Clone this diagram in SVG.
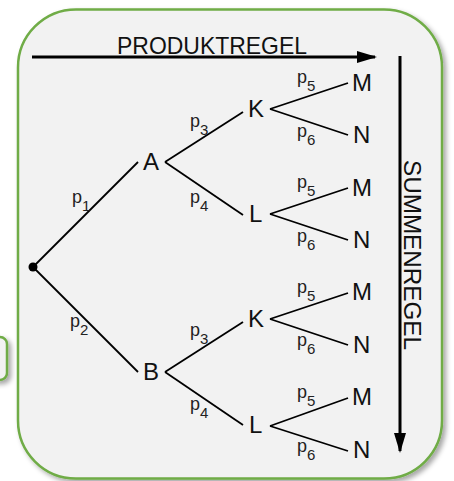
<svg xmlns="http://www.w3.org/2000/svg" width="454" height="481" viewBox="0 0 454 481">
<defs>
<filter id="sh" x="-10%" y="-10%" width="130%" height="130%">
<feDropShadow dx="3" dy="3" stdDeviation="2.5" flood-color="#000" flood-opacity="0.35"/>
</filter>
<marker id="ah" markerWidth="20" markerHeight="12" refX="18" refY="6" orient="auto" markerUnits="userSpaceOnUse">
<path d="M0,0 L20,6 L0,12 Z" fill="#000"/>
</marker>
<style>
.panel{fill:#f2f2f2;stroke:#6fac46;stroke-width:2.5}
.edge{stroke:#000;stroke-width:1.8;fill:none}
.big{stroke:#000;stroke-width:3;fill:none}
.n{font-family:"Liberation Sans",Arial,sans-serif;font-size:24px;fill:#111}
.p{font-family:"Liberation Sans",Arial,sans-serif;font-size:18px;fill:#222}
.s{font-size:15px}
.h{font-family:"Liberation Sans",Arial,sans-serif;font-size:24px;fill:#111}
</style>
</defs>
<rect id="sidebox" class="panel" x="-30" y="337" width="37" height="43" rx="7" filter="url(#sh)"/>
<rect id="panel" class="panel" x="18" y="9.5" width="424" height="469" rx="58" filter="url(#sh)"/>
<g id="rules">
<line class="big" x1="32" y1="57" x2="375" y2="57" marker-end="url(#ah)"/>
<text class="h" x="117" y="54" textLength="190" lengthAdjust="spacingAndGlyphs">PRODUKTREGEL</text>
<line class="big" x1="400" y1="56" x2="400" y2="451" marker-end="url(#ah)"/>
<text class="h" transform="translate(404,160) rotate(90)" x="0" y="0" textLength="190" lengthAdjust="spacingAndGlyphs">SUMMENREGEL</text>
</g>
<g id="connectors">
<line class="edge" x1="33" y1="267" x2="138" y2="162"/>
<line class="edge" x1="33" y1="267" x2="138" y2="372"/>
<line class="edge" x1="165" y1="162" x2="243" y2="112"/>
<line class="edge" x1="165" y1="162" x2="243" y2="215"/>
<line class="edge" x1="165" y1="372" x2="243" y2="322"/>
<line class="edge" x1="165" y1="372" x2="243" y2="425"/>
<line class="edge" x1="270" y1="109" x2="348" y2="83"/>
<line class="edge" x1="270" y1="109" x2="348" y2="135"/>
<line class="edge" x1="270" y1="214" x2="348" y2="188"/>
<line class="edge" x1="270" y1="214" x2="348" y2="240"/>
<line class="edge" x1="270" y1="319" x2="348" y2="293"/>
<line class="edge" x1="270" y1="319" x2="348" y2="345"/>
<line class="edge" x1="270" y1="426" x2="348" y2="398"/>
<line class="edge" x1="270" y1="426" x2="348" y2="451"/>
</g>
<g id="labels">
<text class="p" x="72" y="203">p<tspan class="s" dy="8">1</tspan></text>
<text class="p" x="70" y="327">p<tspan class="s" dy="8">2</tspan></text>
<text class="p" x="190" y="127">p<tspan class="s" dy="8">3</tspan></text>
<text class="p" x="190" y="203">p<tspan class="s" dy="8">4</tspan></text>
<text class="p" x="190" y="336">p<tspan class="s" dy="8">3</tspan></text>
<text class="p" x="190" y="410">p<tspan class="s" dy="8">4</tspan></text>
<text class="p" x="297" y="83">p<tspan class="s" dy="8">5</tspan></text>
<text class="p" x="297" y="137">p<tspan class="s" dy="8">6</tspan></text>
<text class="p" x="297" y="188">p<tspan class="s" dy="8">5</tspan></text>
<text class="p" x="297" y="242">p<tspan class="s" dy="8">6</tspan></text>
<text class="p" x="297" y="293">p<tspan class="s" dy="8">5</tspan></text>
<text class="p" x="297" y="346">p<tspan class="s" dy="8">6</tspan></text>
<text class="p" x="297" y="398">p<tspan class="s" dy="8">5</tspan></text>
<text class="p" x="297" y="452">p<tspan class="s" dy="8">6</tspan></text>
</g>
<g id="root"><circle cx="33" cy="267" r="4.5" fill="#000"/></g>
<g id="A"><text class="n" x="143" y="170">A</text></g>
<g id="B"><text class="n" x="143" y="380">B</text></g>
<g id="K1"><text class="n" x="248" y="117">K</text></g>
<g id="L1"><text class="n" x="249" y="222">L</text></g>
<g id="K2"><text class="n" x="248" y="327">K</text></g>
<g id="L2"><text class="n" x="249" y="433">L</text></g>
<g id="M1"><text class="n" x="352" y="91">M</text></g>
<g id="N1"><text class="n" x="353" y="143">N</text></g>
<g id="M2"><text class="n" x="352" y="196">M</text></g>
<g id="N2"><text class="n" x="353" y="248">N</text></g>
<g id="M3"><text class="n" x="352" y="300">M</text></g>
<g id="N3"><text class="n" x="353" y="353">N</text></g>
<g id="M4"><text class="n" x="352" y="405">M</text></g>
<g id="N4"><text class="n" x="353" y="458">N</text></g>
</svg>
